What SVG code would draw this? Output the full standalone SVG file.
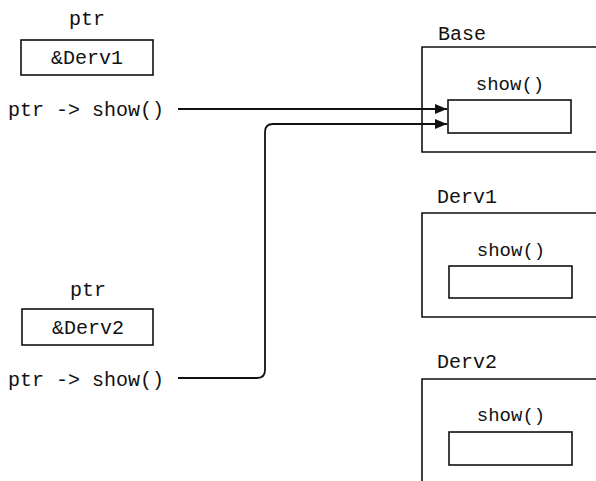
<svg xmlns="http://www.w3.org/2000/svg" width="596" height="481" viewBox="0 0 596 481">
<style>
text{font-family:"Liberation Mono","Courier New",monospace;font-size:20px;fill:#111}
.m{text-anchor:middle}
.s{font-size:19px}
.box{fill:none;stroke:#111;stroke-width:1.6}
.ln{fill:none;stroke:#111;stroke-width:1.8}
</style>
<defs>
<marker id="ah" markerWidth="12" markerHeight="10" refX="12" refY="5" orient="auto" markerUnits="userSpaceOnUse">
<path d="M0,0 L12,5 L0,10 Z" fill="#111"/>
</marker>
</defs>
<rect width="596" height="481" fill="#fff"/>
<g id="ptr1">
<text class="m" x="87" y="25">ptr</text>
<rect class="box" x="21" y="40" width="132" height="35"/>
<text class="m" x="87" y="64">&amp;Derv1</text>
<text x="8" y="116">ptr -&gt; show()</text>
</g>
<g id="ptr2">
<text class="m" x="88" y="296">ptr</text>
<rect class="box" x="22" y="309" width="131" height="36"/>
<text class="m" x="88" y="334">&amp;Derv2</text>
<text x="8" y="386">ptr -&gt; show()</text>
</g>
<g id="base">
<text x="438" y="40">Base</text>
<path class="box" d="M597,47 H422 V152 H597"/>
<text class="m s" x="510" y="90">show()</text>
<rect class="box" x="448" y="100" width="123" height="33"/>
</g>
<g id="derv1">
<text x="437" y="203">Derv1</text>
<path class="box" d="M597,213 H422 V317 H597"/>
<text class="m s" x="511" y="256">show()</text>
<rect class="box" x="449" y="266" width="123" height="32"/>
</g>
<g id="derv2">
<text x="437" y="368">Derv2</text>
<path class="box" d="M597,379 H422 V482"/>
<text class="m s" x="511" y="421">show()</text>
<rect class="box" x="449" y="432" width="123" height="33"/>
</g>
<g id="connectors">
<path class="ln" d="M178,109 H447" marker-end="url(#ah)"/>
<path class="ln" d="M178,378 H257 Q265,378 265,370 V132 Q265,124 273,124 H447" marker-end="url(#ah)"/>
</g>
</svg>
